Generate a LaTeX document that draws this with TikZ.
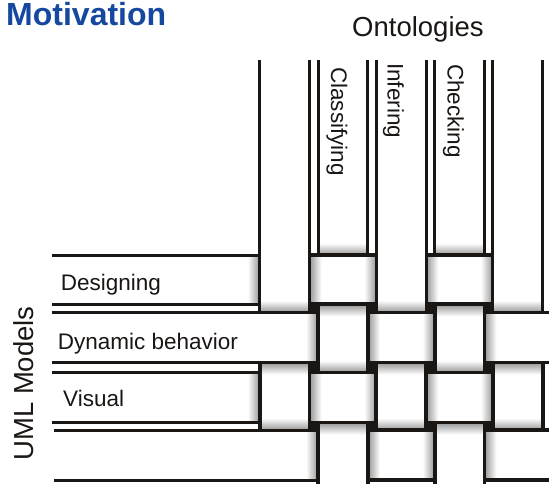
\documentclass[tikz,border=0pt]{standalone}
\usepackage{fontspec}
\setmainfont{Liberation Sans}
\definecolor{ink}{RGB}{26,22,20}
\definecolor{titleblue}{RGB}{22,72,160}
\definecolor{sg}{RGB}{150,150,150}
\begin{document}
\begin{tikzpicture}[x=1pt,y=-1pt,
  edge/.style={line width=3pt, draw=ink},
  inedge/.style={line width=3.8pt, draw=ink},
  lbl/.style={inner sep=0pt, text=ink, font=\fontsize{22.5}{26}\selectfont},
  big/.style={inner sep=0pt, text=ink, font=\fontsize{27.5}{32}\selectfont}]
\useasboundingbox (0,0) rectangle (549,483);
% dark ground of the woven part
\fill[ink] (259.7,255.3) rectangle (542.7,480.2);
% vertical strips: x (left edge), y top, y bottom
\foreach \x/\ya/\yb in {259.7/60/312.5, 318/60/255.3, 376.3/60/312.5, 434.6/60/255.3, 492.9/60/312.5,
  318/304.2/372.5, 434.6/304.2/372.5,
  259.7/362.5/430.2, 376.3/362.5/430.2, 492.9/362.5/430.2,
  318/422.5/483.5, 434.6/422.5/483.5}
  \fill[white] (\x,\ya) rectangle (\x+49.8,\yb);
\foreach \x/\yb in {259.7/312.5, 318/255.3, 376.3/312.5, 434.6/255.3, 492.9/312.5,
  318/372.5, 434.6/372.5, 259.7/430.2, 376.3/430.2, 492.9/430.2}
  \shade[top color=white, bottom color=sg] (\x,\yb-12) rectangle (\x+49.8,\yb);
\foreach \x/\ya in {318/304.2, 434.6/304.2, 259.7/362.5, 376.3/362.5, 492.9/362.5, 318/422.5, 434.6/422.5}
  \shade[top color=sg, bottom color=white] (\x,\ya) rectangle (\x+49.8,\ya+12);
% horizontal strips: y top, y bottom, x left, x right
\foreach \ya/\yb/\xa/\xb in {
  255.3/304.2/52/259.7, 255.3/304.2/309.5/376.3, 255.3/304.2/426.1/492.9,
  312.5/362.5/52/318, 312.5/362.5/367.8/434.6, 312.5/362.5/484.4/549.5,
  372.5/422.5/52/259.7, 372.5/422.5/309.5/376.3, 372.5/422.5/426.1/492.9,
  430.2/480.2/54/318, 430.2/480.2/367.8/434.6, 430.2/480.2/484.4/549.5}
  \fill[white] (\xa,\ya) rectangle (\xb,\yb);
\foreach \ya/\yb/\xb in {
  255.3/304.2/259.7, 255.3/304.2/376.3, 255.3/304.2/492.9,
  312.5/362.5/318, 312.5/362.5/434.6,
  372.5/422.5/259.7, 372.5/422.5/376.3, 372.5/422.5/492.9,
  430.2/480.2/318, 430.2/480.2/434.6}
  \shade[left color=white, right color=sg] (\xb-12,\ya) rectangle (\xb,\yb);
\foreach \ya/\yb/\xa in {
  255.3/304.2/309.5, 255.3/304.2/426.1,
  312.5/362.5/367.8, 312.5/362.5/484.4,
  372.5/422.5/309.5, 372.5/422.5/426.1,
  430.2/480.2/367.8, 430.2/480.2/484.4}
  \shade[left color=sg, right color=white] (\xa,\ya) rectangle (\xa+12,\yb);
% edges of the strips that reach the open ends
\foreach \x/\ya/\yb in {259.7/60/312.5, 318/60/255.3, 376.3/60/312.5, 434.6/60/255.3, 492.9/60/312.5}
  \draw[edge] (\x,\ya) -- (\x,\yb) (\x+49.8,\ya) -- (\x+49.8,\yb);
\foreach \ya/\yb/\xa/\xb in {
  255.3/304.2/52/259.7, 312.5/362.5/52/318, 372.5/422.5/52/259.7, 430.2/480.2/54/318}
  \draw[edge] (\xa,\ya) -- (\xb,\ya) (\xa,\yb) -- (\xb,\yb);
% edges of the pieces inside the weave
\foreach \x/\ya/\yb in {
  318/304.2/372.5, 434.6/304.2/372.5,
  259.7/362.5/430.2, 376.3/362.5/430.2, 492.9/362.5/430.2,
  318/422.5/483.5, 434.6/422.5/483.5}
  \draw[inedge] (\x,\ya) -- (\x,\yb) (\x+49.8,\ya) -- (\x+49.8,\yb);
\foreach \ya/\yb/\xa/\xb in {
  255.3/304.2/309.5/376.3, 255.3/304.2/426.1/492.9,
  312.5/362.5/367.8/434.6, 312.5/362.5/484.4/549.5,
  372.5/422.5/309.5/376.3, 372.5/422.5/426.1/492.9,
  430.2/480.2/367.8/434.6, 430.2/480.2/484.4/549.5}
  \draw[inedge] (\xa,\ya) -- (\xb,\ya) (\xa,\yb) -- (\xb,\yb);
% texts
\node[anchor=base west, inner sep=0pt, text=titleblue, font=\fontsize{32}{36}\selectfont\bfseries] (title) at (6,25.7) {Motivation};
\node[big, anchor=base west] (onto) at (352,36) {Ontologies};
\node[big, rotate=90, anchor=base] (uml) at (34,383.4) {UML Models};
\node[lbl, rotate=-90, anchor=base west] (classifying) at (331,67) {Classifying};
\node[lbl, rotate=-90, anchor=base west] (infering) at (387.5,63) {Infering};
\node[lbl, rotate=-90, anchor=base west] (checking) at (447.5,64) {Checking};
\node[lbl, anchor=base west] (designing) at (60.6,290.7) {Designing};
\node[lbl, anchor=base west] (dynamic) at (57.6,349) {Dynamic behavior};
\node[lbl, anchor=base west] (visual) at (63,406.7) {Visual};
\end{tikzpicture}
\end{document}
